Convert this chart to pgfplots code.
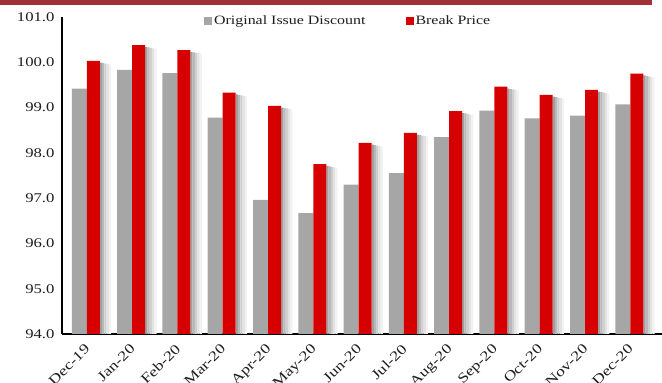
\documentclass[border=0pt]{standalone}
\usepackage{fontspec}
\setmainfont{Liberation Serif}[FakeStretch=1.25]
\usepackage{pgfplots}
\usepackage{pgfplotstable}
\pgfplotsset{compat=1.18}
\definecolor{oid}{RGB}{166,166,166}
\definecolor{bp}{RGB}{215,0,0}
\definecolor{banner}{RGB}{160,50,55}
\definecolor{txt}{RGB}{30,30,30}

\pgfplotstableread{
x oid bp
0 99.42 100.03
1 99.83 100.38
2 99.76 100.27
3 98.78 99.33
4 96.96 99.04
5 96.67 97.75
6 97.30 98.22
7 97.55 98.44
8 98.35 98.92
9 98.93 99.46
10 98.76 99.28
11 98.82 99.39
12 99.07 99.75
}\data

\begin{document}
\begin{tikzpicture}
\useasboundingbox (0,0) rectangle (662bp,383bp);
\fill[banner] (0,378bp) rectangle (652bp,383bp);
\begin{axis}[
  at={(62bp,49bp)}, anchor=south west,
  scale only axis, width=600bp, height=317bp,
  xmin=-0.55, xmax=12.7, ymin=94, ymax=101,
  axis lines*=left,
  axis line style={black, line width=1.5bp},
  xtick={0,...,12},
  xticklabels={Dec-19,Jan-20,Feb-20,Mar-20,Apr-20,May-20,Jun-20,Jul-20,Aug-20,Sep-20,Oct-20,Nov-20,Dec-20},
  ytick={94,95,...,101},
  major tick length=0pt,
  /pgf/number format/fixed, /pgf/number format/fixed zerofill,
  /pgf/number format/precision=1, /pgf/number format/assume math mode=true,
  tick label style={text=txt},
  yticklabel style={font=\fontsize{13.4}{15}\selectfont, xshift=-4bp},
  xticklabel style={font=\fontsize{14}{16}\selectfont, rotate=45, anchor=north east, inner sep=1bp, xshift=-7.4bp, yshift=-3.2bp},
  legend style={at={(0.477,0.987)}, anchor=center, draw=none, fill=none,
    font=\fontsize{12.8}{14}\selectfont, text=txt, legend columns=2,
    /tikz/every even column/.append style={column sep=38bp}},
  legend image code/.code={\fill[#1,draw=none] (0bp,-4bp) rectangle (8bp,4bp);},
]
\addplot[ybar, forget plot, draw=none, fill=black!38, bar width=0.05, bar shift=0.312] table[x=x, y expr=\thisrow{bp}-0.04] {\data};
\addplot[ybar, forget plot, draw=none, fill=black!28, bar width=0.05, bar shift=0.362] table[x=x, y expr=\thisrow{bp}-0.05] {\data};
\addplot[ybar, forget plot, draw=none, fill=black!19, bar width=0.05, bar shift=0.412] table[x=x, y expr=\thisrow{bp}-0.06] {\data};
\addplot[ybar, forget plot, draw=none, fill=black!11, bar width=0.05, bar shift=0.462] table[x=x, y expr=\thisrow{bp}-0.07] {\data};
\addplot[ybar, forget plot, draw=none, fill=black!5, bar width=0.05, bar shift=0.512] table[x=x, y expr=\thisrow{bp}-0.08] {\data};
\addplot[ybar, fill=oid, draw=none, bar width=0.331, bar shift=-0.166] table[x=x, y=oid] {\data};
\addplot[ybar, fill=bp, draw=none, bar width=0.287, bar shift=0.143] table[x=x, y=bp] {\data};
\legend{Original Issue Discount, Break Price}
\end{axis}
\end{tikzpicture}
\end{document}
